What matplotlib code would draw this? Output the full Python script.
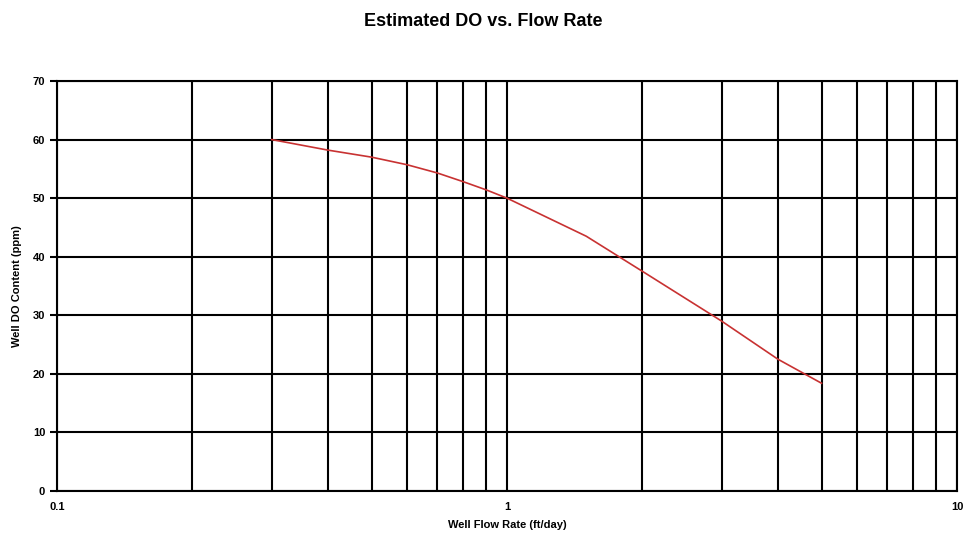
import matplotlib.pyplot as plt
from matplotlib.ticker import LogLocator, NullFormatter, FixedLocator

plt.rcParams['font.family'] = ['Liberation Sans', 'DejaVu Sans']

flow_rate = [0.3, 0.4, 0.5, 0.6, 0.7, 0.8, 0.9, 1.0, 1.5, 2.0, 3.0, 4.0, 5.0]
do_content = [60, 58.2, 57, 55.7, 54.3, 52.8, 51.4, 50, 43.5, 37.5, 29, 22.5, 18.4]
x_ticks = [0.1, 1, 10]
x_tick_labels = ['0.1', '1', '10']
y_ticks = [0, 10, 20, 30, 40, 50, 60, 70]

fig = plt.figure(figsize=(9.66, 5.4), dpi=100)
ax = fig.add_axes([0.059, 0.0907, 0.9317, 0.7593])

ax.plot(flow_rate, do_content, color='#c83232', linewidth=1.2)

ax.set_xscale('log')
ax.set_xlim(0.1, 10)
ax.set_ylim(0, 70)
ax.xaxis.set_major_locator(FixedLocator(x_ticks))
ax.set_xticklabels(x_tick_labels)
ax.xaxis.set_minor_locator(LogLocator(base=10, subs=range(2, 10)))
ax.xaxis.set_minor_formatter(NullFormatter())
ax.set_yticks(y_ticks)

ax.grid(True, which='both', axis='x', color='black', linewidth=1.5)
ax.grid(True, which='major', axis='y', color='black', linewidth=1.5)
ax.tick_params(axis='x', which='both', length=0, pad=8, labelsize=8)
ax.tick_params(axis='y', length=5, width=1.5, labelsize=8)
for lbl in ax.get_xticklabels() + ax.get_yticklabels():
    lbl.set_fontweight('bold')
for sp in ax.spines.values():
    sp.set_linewidth(1.5)

ax.set_xlabel('Well Flow Rate (ft/day)', fontsize=8, fontweight='bold', labelpad=6)
ax.set_ylabel('Well DO Content (ppm)', fontsize=8, fontweight='bold', labelpad=8)
fig.suptitle('Estimated DO vs. Flow Rate', fontsize=13, fontweight='bold', y=0.975)

fig.savefig('out.png')
